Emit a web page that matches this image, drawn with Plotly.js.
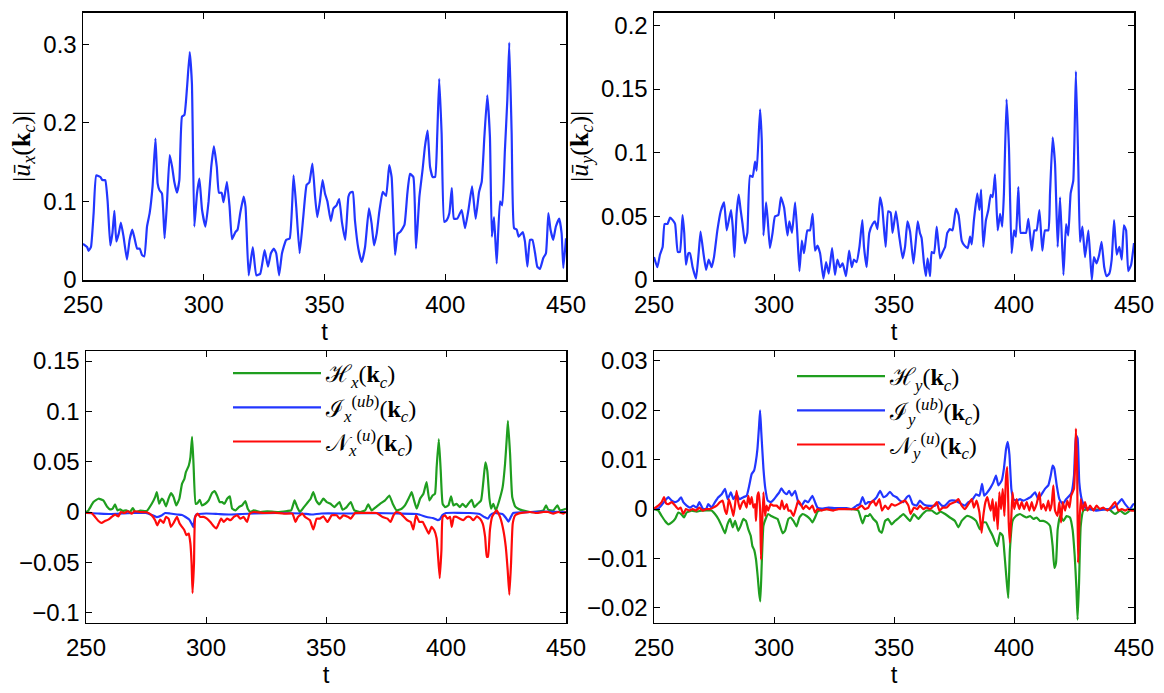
<!DOCTYPE html>
<html>
<head>
<meta charset="utf-8">
<script src="https://cdn.plot.ly/plotly-3.0.1.min.js"></script>
<style>html,body{margin:0;padding:0;background:#fff}#plot{width:1164px;height:693px}</style>
</head>
<body>
<div id="plot"></div>
<script>
// ---- data: [t, value] pairs ----
const uxData = [[250,0.046],[251.7,0.042],[252.3,0.037],[253.3,0.042],[254.4,0.085],[255.5,0.133],[257.2,0.131],[258,0.127],[259.2,0.127],[260.2,0.10],[261.3,0.044],[262.2,0.06],[263,0.088],[263.8,0.049],[264.8,0.059],[265.7,0.073],[266.8,0.055],[268.2,0.026],[269.3,0.051],[270.4,0.064],[271.2,0.055],[272.4,0.04],[273.5,0.04],[274.4,0.032],[275.4,0.03],[276.5,0.068],[277.6,0.085],[278.8,0.119],[280,0.18],[280.9,0.123],[281.7,0.114],[282.7,0.11],[283.8,0.053],[284.8,0.10],[285.9,0.159],[286.9,0.144],[287.8,0.125],[288.9,0.111],[289.9,0.127],[291,0.208],[292,0.21],[293.1,0.246],[294.2,0.29],[295.1,0.25],[296.1,0.068],[297.2,0.11],[298.2,0.129],[299.3,0.089],[300.7,0.068],[302,0.10],[303.1,0.144],[304.2,0.17],[305.4,0.144],[306.3,0.111],[307.4,0.111],[308.2,0.099],[309.6,0.125],[310.7,0.093],[311.7,0.052],[313.1,0.061],[314,0.064],[315.1,0.085],[316.5,0.106],[317.3,0.093],[318.6,0.006],[320.3,0.042],[321.8,0.006],[323.4,0.008],[325.2,0.038],[326.6,0.017],[327.8,0.034],[329,0.04],[330,0.034],[331.2,0.006],[332.4,0.034],[334.1,0.051],[335.6,0.053],[337.2,0.133],[338.3,0.093],[339.7,0.034],[341.2,0.08],[342.6,0.121],[343.7,0.124],[345,0.148],[346.1,0.106],[347,0.08],[348.1,0.10],[349.2,0.127],[350.2,0.11],[351.2,0.10],[352.6,0.075],[353.7,0.091],[355,0.095],[356.1,0.103],[357.2,0.074],[358.6,0.051],[359.9,0.106],[360.6,0.111],[361.7,0.112],[362.6,0.076],[364,0.04],[365.4,0.023],[366.8,0.042],[368.4,0.091],[369.5,0.072],[370.5,0.044],[371.6,0.059],[372.7,0.087],[374.1,0.112],[375.5,0.107],[376.8,0.146],[377.8,0.131],[379.2,0.032],[380.3,0.059],[381.3,0.061],[383.1,0.07],[384.3,0.11],[385.4,0.135],[386.8,0.131],[387.9,0.04],[389.3,0.106],[390.6,0.14],[391.6,0.17],[392.7,0.19],[393.7,0.144],[394.8,0.131],[395.8,0.131],[396.7,0.186],[397.5,0.256],[398.5,0.186],[399.6,0.074],[400.6,0.076],[401.7,0.085],[402.7,0.117],[403.6,0.078],[405,0.078],[406.8,0.089],[408.2,0.066],[409.6,0.089],[411.1,0.119],[412.6,0.078],[414,0.112],[415.1,0.125],[416.2,0.182],[417.4,0.235],[418.5,0.182],[419.3,0.055],[420.2,0.08],[421.3,0.021],[422.7,0.10],[423.6,0.095],[424.7,0.165],[425.7,0.229],[426.5,0.302],[427.5,0.186],[428.5,0.066],[429.6,0.064],[430.4,0.055],[432.1,0.061],[433,0.049],[434,0.017],[435.1,0.051],[436.1,0.051],[437.2,0.034],[438.1,0.017],[439.2,0.014],[440.6,0.028],[441.7,0.034],[442.7,0.085],[443.6,0.064],[444.7,0.051],[445.8,0.068],[447.2,0.078],[448.2,0.059],[448.9,0.015],[450,0.053]];

const uyData = [[250,0.018],[251.4,0.010],[252.5,0.02],[253.6,0.026],[254.4,0.044],[255.6,0.044],[256.7,0.049],[257.8,0.047],[258.8,0.044],[259.9,0.022],[260.8,0.022],[261.9,0.051],[262.6,0.037],[263.3,0.012],[264.3,0.021],[265,0.021],[266.1,0.01],[267.5,0.001],[268.6,0.021],[269.4,0.038],[270.6,0.021],[271.7,0.008],[272.8,0.016],[274,0.010],[275,0.018],[276.4,0.039],[277.8,0.054],[279.2,0.061],[280.3,0.039],[281.3,0.048],[282.1,0.055],[282.8,0.042],[283.5,0.018],[284.4,0.052],[285.3,0.067],[286.1,0.055],[286.9,0.044],[287.9,0.029],[288.9,0.037],[290,0.082],[291.1,0.081],[292.1,0.093],[292.8,0.086],[294.2,0.134],[294.9,0.11],[295.6,0.035],[296.7,0.061],[297.4,0.047],[298.3,0.025],[299.4,0.037],[300.4,0.050],[301.8,0.051],[302.9,0.065],[304.2,0.057],[305.6,0.035],[306.4,0.046],[307.5,0.037],[308.8,0.061],[309.7,0.037],[310.6,0.007],[311.6,0.031],[312.5,0.021],[313.9,0.039],[315,0.039],[316.1,0.052],[317.1,0.023],[318.1,0.027],[319.2,0.021],[320.6,0.001],[321.7,0.014],[322.8,0.005],[324.2,0.025],[325.4,0.004],[326.4,0.016],[327.5,0.01],[328.6,0.013],[330,0.003],[331.3,0.023],[332.4,0.01],[333.3,0.016],[334.4,0.014],[335.6,0.026],[336.8,0.047],[337.5,0.026],[338.6,0.010],[339.7,0.037],[341.1,0.044],[342.1,0.046],[343.1,0.04],[344.2,0.065],[345.1,0.057],[346.5,0.026],[347.6,0.054],[348.6,0.053],[349.4,0.037],[350.8,0.054],[352.2,0.034],[353.6,0.017],[354.6,0.026],[355.6,0.046],[356.7,0.038],[358.1,0.013],[359,0.029],[359.9,0.046],[360.8,0.037],[361.5,0.033],[362.5,0.013],[363.3,0.003],[364,0.017],[365,0.003],[365.7,0.022],[366.7,0.021],[367.8,0.042],[369.2,0.017],[370.3,0.022],[371.3,0.026],[372.2,0.037],[373.3,0.040],[374.4,0.039],[375.8,0.056],[376.9,0.051],[378.2,0.031],[379.4,0.027],[380.7,0.025],[381.7,0.034],[382.4,0.028],[383.3,0.047],[384.7,0.068],[385.6,0.055],[386.3,0.071],[387.2,0.026],[388.3,0.047],[389.3,0.055],[390.3,0.067],[391.1,0.065],[392.1,0.083],[393.2,0.039],[394.2,0.052],[395.1,0.042],[395.8,0.068],[396.9,0.142],[397.9,0.104],[399,0.021],[400,0.039],[400.8,0.034],[401.8,0.073],[402.8,0.037],[403.9,0.037],[405,0.037],[406,0.048],[407.4,0.023],[408.5,0.039],[409.4,0.039],[410.6,0.055],[411.8,0.023],[412.9,0.039],[414.3,0.039],[415,0.068],[416.1,0.112],[417.1,0.091],[418.2,0.026],[419.2,0.065],[420.6,0.004],[421.7,0.044],[422.6,0.035],[423.6,0.068],[424.7,0.078],[425.8,0.164],[426.8,0.089],[427.5,0.030],[428.5,0.042],[429.6,0.018],[431,0.039],[432.4,0.0],[433.3,0.018],[434.4,0.013],[435.4,0.019],[436.5,0.03],[437.6,0.010],[438.6,0.003],[439.7,0.005],[440.7,0.016],[441.7,0.047],[442.8,0.02],[443.9,0.026],[444.9,0.016],[445.8,0.043],[446.7,0.039],[447.6,0.007],[448.8,0.012],[450,0.029]];

const hxData = [[250,0],[251,0.0016],[253.1,0.0099],[255.2,0.0132],[257.2,0.0115],[258.9,0.0049],[260,0.0026],[261.1,0.0033],[262.1,0.0076],[263.1,0.0016],[264.2,0.0026],[265.3,0.001],[266.7,0.0016],[268.4,0],[269.5,0.0039],[270.5,0],[272.6,0.0013],[275.3,0.001],[277.4,0.0082],[278.8,0.0148],[279.5,0.0197],[280.5,0.0082],[281.5,0.0132],[282.3,0.0115],[283.3,0.0056],[284.4,0.0132],[285.4,0.0188],[286.5,0.0148],[287.6,0.0066],[288.9,0.0132],[290,0.028],[291,0.0329],[291.6,0.0395],[292.8,0.046],[293.5,0.0543],[294.2,0.0747],[294.8,0.0477],[295.7,0.0082],[296.5,0.0089],[297.4,0.0122],[298.3,0.0066],[299.7,0.0082],[301.1,0.0115],[302.5,0.0188],[303.6,0.0207],[304.6,0.0164],[305.7,0.0099],[306.7,0.0099],[307.7,0.0082],[308.8,0.0132],[309.9,0.0155],[310.9,0.0033],[312.3,0.0016],[313.7,0.0049],[315,0.0066],[316.4,0.0109],[317.4,0.0033],[318.5,0],[319.9,0.0016],[322.7,0],[325.5,0.0007],[329.7,0],[333.8,0.001],[335.5,0.0016],[336.9,0.0115],[338,0.0049],[339.1,0],[340.8,0.0049],[342.5,0.0099],[343.6,0.0132],[344.7,0.0197],[345.9,0.0115],[347.2,0.0076],[348.9,0.0132],[350.3,0.0099],[351.9,0.0082],[353.5,0.0049],[355.6,0.0099],[356.9,0.0023],[358.6,0.0049],[360.3,0.0099],[361.8,0.0016],[364.2,0],[366.3,0.0016],[367.6,0.0076],[369,0.0016],[370.8,0.0049],[372.5,0.0082],[374.6,0.0115],[376.4,0.0164],[377.8,0.0082],[379.4,0.0016],[381.5,0.0033],[382.9,0.0066],[384.7,0.0148],[385.7,0.0197],[386.7,0.0115],[387.8,0.0033],[389.2,0.0132],[390.6,0.0181],[391.9,0.0296],[393.1,0.0115],[394.4,0.0164],[395.4,0.0181],[396.1,0.0444],[397,0.0724],[397.8,0.0411],[398.6,0.0082],[399.6,0.0049],[401,0.0066],[402.1,0.0155],[403.1,0.0066],[404.4,0.0082],[405.8,0.0049],[406.9,0.0082],[408.3,0.0049],[409.3,0.0082],[410.7,0.0122],[411.8,0.0049],[413.2,0.0082],[414.6,0.0115],[415.6,0.0313],[416.4,0.0493],[417.2,0.0411],[418.1,0.0132],[418.8,0.0033],[419.7,0.0082],[420.8,0.0016],[422.2,0.0115],[423.6,0.0247],[424.6,0.0477],[425.3,0.0724],[425.8,0.0905],[426.7,0.0576],[427.6,0.0148],[428.8,0.0056],[430.1,0.0033],[431.9,0.0016],[435,0],[439.2,0.0007],[440.6,0.0016],[441.7,0.0066],[442.6,0.0023],[444.7,0.0016],[446.4,0.0066],[447.5,0.0016],[450,0.0033]];

const ixData = [[250,-0.001],[255,-0.0015],[260,-0.002],[265,-0.0015],[270,-0.001],[275,-0.001],[277.5,-0.003],[279.5,-0.005],[281.5,-0.0035],[283,-0.001],[285,-0.0015],[288,-0.0025],[290,-0.003],[291.5,-0.005],[293,-0.0075],[294.2,-0.0125],[294.7,-0.015],[295.3,-0.006],[296,-0.0025],[300,-0.0015],[305,-0.002],[310,-0.0025],[315,-0.002],[320,-0.0015],[330,-0.001],[340,-0.0015],[344,-0.0025],[348,-0.0015],[360,-0.0015],[370,-0.001],[380,-0.0015],[388,-0.002],[392,-0.005],[394.5,-0.006],[396.5,-0.008],[397.5,-0.007],[398.5,-0.003],[400,-0.001],[410,-0.001],[414,-0.002],[416,-0.005],[417.5,-0.0066],[418.5,-0.003],[420,-0.001],[423.5,-0.002],[425,-0.006],[426,-0.0095],[427,-0.005],[428,-0.001],[435,0],[440,0.0003],[450,0]];

const nxData = [[250,-0.001],[252.3,-0.001],[253.8,-0.0049],[255.2,-0.0089],[256.5,-0.0109],[257.9,-0.0089],[259.3,-0.0076],[260.7,-0.0049],[262.1,-0.0026],[263.5,-0.0043],[264.5,0],[265.9,-0.001],[267.4,0.0007],[269.1,-0.0016],[270.1,0.0007],[272.6,0],[275.3,-0.0003],[277.4,-0.0033],[278.8,-0.0082],[279.7,-0.0132],[280.9,-0.0076],[282.3,-0.0109],[283.3,-0.0049],[284.4,-0.0066],[285.4,-0.0148],[286.5,-0.0109],[287.9,-0.0049],[289,-0.0115],[290,-0.0148],[291,-0.0181],[291.8,-0.023],[292.8,-0.0214],[293.5,-0.0313],[294,-0.051],[294.4,-0.0806],[295,-0.051],[295.5,-0.0049],[296.5,-0.0016],[297.6,-0.0049],[299,-0.0049],[300.4,-0.0066],[301.8,-0.0099],[303.2,-0.0141],[304.3,-0.0164],[305.3,-0.0115],[306.3,-0.0066],[307.4,-0.0099],[308.8,-0.0066],[310.2,-0.0082],[311.6,-0.0049],[313,-0.0033],[314.3,-0.0066],[315.7,-0.0049],[317.1,-0.0099],[318.2,-0.0016],[319.9,0],[324.1,-0.001],[328.3,-0.0007],[332.5,-0.0016],[336,-0.0016],[337.3,-0.0099],[338.3,-0.0049],[340.1,-0.0016],[341.3,-0.0049],[343.3,-0.0082],[344.7,-0.0174],[346.1,-0.0066],[347.5,-0.0066],[348.9,-0.0043],[350.6,-0.0099],[352.4,-0.0033],[354.4,-0.0033],[355.8,-0.0066],[357.2,-0.0033],[359.3,-0.0049],[360.3,-0.0066],[362.1,-0.001],[366,-0.001],[371.1,-0.001],[373.6,-0.0049],[375.6,-0.0066],[376.9,-0.0099],[378.1,-0.0033],[379.2,0],[380.8,-0.001],[382.5,-0.0049],[383.9,-0.0082],[385.3,-0.0099],[386.4,-0.0174],[387.5,-0.0033],[388.9,-0.0099],[390.3,-0.0099],[391.7,-0.0164],[392.8,-0.0214],[394,-0.0148],[395.1,-0.0181],[396.1,-0.0263],[396.7,-0.0444],[397.4,-0.0658],[398.1,-0.0378],[398.6,-0.0049],[399.6,-0.0033],[400.6,-0.0066],[401.7,-0.0049],[402.4,-0.0148],[403.3,-0.0049],[404.4,-0.0049],[405.8,-0.0066],[407.2,-0.0082],[408.6,-0.0049],[410,-0.0049],[411.4,-0.0082],[412.8,-0.0043],[414.2,-0.0066],[415.3,-0.0115],[416.3,-0.0247],[417,-0.0444],[417.5,-0.0444],[418.3,-0.0181],[419.2,-0.0049],[420,-0.0016],[421.1,0.0016],[422.5,-0.0049],[423.9,-0.0181],[424.9,-0.0345],[425.7,-0.0576],[426.4,-0.0822],[427.1,-0.051],[427.8,-0.0115],[428.8,-0.0033],[430.1,-0.0016],[432.2,-0.0007],[435,0],[437.8,-0.001],[440.6,0],[442.6,0],[444.7,-0.0016],[446.8,0],[448.9,-0.0016],[450,0]];

const hyData = [[250,0],[251.8,-0.0003],[253.2,-0.0014],[254.6,-0.0024],[256,-0.0031],[257.4,-0.0027],[258.8,-0.002],[260.1,-0.0007],[261.3,-0.001],[262.5,-0.0017],[263.6,-0.0007],[265.7,-0.0003],[267.8,-0.0005],[269.9,-0.0003],[274,-0.0003],[275.4,-0.001],[276.8,-0.002],[278.2,-0.0034],[279.6,-0.0049],[280.6,-0.0031],[281.7,-0.002],[282.8,-0.0037],[283.8,-0.0024],[285.1,-0.0044],[286.1,-0.0034],[287.2,-0.002],[288.3,-0.0024],[289.3,-0.0041],[290.3,-0.0054],[291,-0.0075],[291.7,-0.0082],[292.5,-0.0102],[293.2,-0.0136],[293.8,-0.017],[294.3,-0.0187],[294.9,-0.0109],[295.6,-0.0034],[296.5,-0.002],[297.6,-0.001],[298.8,-0.0014],[300.1,-0.0017],[301.5,-0.002],[302.5,-0.0034],[303.6,-0.0049],[304.6,-0.0044],[306,-0.002],[306.9,-0.0017],[308.1,-0.0024],[309.4,-0.0035],[310.6,-0.0017],[311.9,-0.001],[313.6,-0.0014],[315,-0.002],[316,-0.0027],[317.1,-0.0017],[318.2,-0.0005],[319.9,-0.0001],[321.9,0],[333.1,0],[335.1,-0.0003],[336.9,-0.0029],[338.1,-0.0014],[339.3,-0.0014],[340,-0.001],[341.4,-0.002],[342.8,-0.0027],[343.9,-0.0044],[344.9,-0.0048],[346.3,-0.0024],[347.6,-0.002],[349,-0.0031],[350.4,-0.0024],[352.2,-0.0017],[353.9,-0.001],[355.3,-0.0017],[356.7,-0.0024],[358.3,-0.001],[360.1,-0.002],[361.9,-0.001],[363.6,-0.0003],[365.7,-0.0003],[367.8,-0.001],[369.4,-0.0005],[371.3,-0.001],[373.3,-0.0017],[375.4,-0.0024],[376.8,-0.0037],[378.2,-0.0024],[380.3,-0.0014],[382.4,-0.0017],[384.2,-0.0024],[385.8,-0.0041],[386.9,-0.0027],[388.3,-0.0027],[389.7,-0.0041],[391.1,-0.0054],[392.2,-0.0068],[393.1,-0.0075],[394.2,-0.0048],[395.3,-0.0054],[396.1,-0.0095],[396.9,-0.0143],[397.6,-0.018],[398.3,-0.0082],[399.4,-0.0024],[400.8,-0.0014],[402.5,-0.001],[403.9,-0.0014],[405.3,-0.0017],[406.7,-0.0014],[408.1,-0.002],[409.4,-0.0017],[410.8,-0.0024],[412.2,-0.0024],[413.6,-0.0027],[415,-0.0034],[416.1,-0.0075],[416.8,-0.0119],[417.5,-0.0109],[418.2,-0.0041],[419.2,-0.0014],[420.6,-0.0024],[421.9,-0.0014],[423.3,-0.0017],[424.4,-0.0041],[425.3,-0.0095],[426,-0.016],[426.5,-0.0224],[427.1,-0.015],[427.8,-0.0034],[428.9,-0.0003],[431.7,0],[434.4,-0.0001],[437.2,0],[440,-0.0002],[442.1,-0.001],[444.2,-0.0003],[446.3,-0.001],[448.3,-0.0003],[450,0]];

const iyData = [[250,0],[251.8,0.0001],[253.2,0.0008],[254.6,0.0017],[256,0.0024],[257.4,0.0017],[258.8,0.0014],[260.1,0.0017],[261.3,0.0024],[262.2,0.0014],[263.6,0.0007],[265,0.0003],[266.4,0.0007],[267.8,0.0003],[268.9,0.0014],[270.3,0.0001],[271.7,0],[272.6,0.001],[274,0.0003],[275.4,0.0014],[276.8,0.0024],[278.2,0.003],[279.6,0.0041],[280.7,0.002],[282,0.0034],[283.1,0.002],[284.4,0.003],[285.6,0.002],[287.2,0.0024],[288.6,0.0027],[289.7,0.0048],[290.7,0.0071],[291.7,0.0078],[292.4,0.0095],[293.1,0.0122],[293.8,0.017],[294.2,0.020],[294.7,0.0156],[295.6,0.0082],[296.4,0.0041],[297.4,0.0017],[298.6,0.0014],[300,0.002],[301.1,0.0027],[302.2,0.0034],[303.1,0.0042],[304.2,0.0034],[305.3,0.003],[306.3,0.0037],[307.4,0.0027],[308.8,0.0037],[310.1,0.0014],[311.5,0.0007],[312.9,0.0017],[314.3,0.0014],[316,0.0027],[317.1,0.0014],[318.1,0.0003],[319.9,0.0001],[322.6,0.0003],[325.4,0.0002],[330.3,0.0002],[332.4,0],[334.4,0.0007],[335.8,0.001],[336.9,0.0024],[338.1,0.001],[339.3,0.0014],[340.5,0.0014],[341.4,0.0017],[342.8,0.0024],[344.2,0.0037],[345.6,0.0024],[346.9,0.0027],[348.3,0.0035],[349.7,0.0027],[351.1,0.0024],[352.5,0.0017],[353.9,0.0014],[355.3,0.0024],[356.4,0.0027],[357.8,0.001],[359.4,0.0007],[360.8,0.0017],[362.2,0.001],[363.6,0.0007],[367.1,0.0007],[368.5,0.0014],[369.9,0.0007],[371.3,0.0007],[373.3,0.0017],[375.4,0.0017],[376.8,0.0014],[378.2,0.001],[379.6,0.0007],[381,0.0014],[382.4,0.0017],[384.2,0.003],[385.6,0.0027],[386.7,0.0051],[387.6,0.0027],[388.9,0.0034],[390.3,0.0044],[391.4,0.0054],[392.5,0.0068],[393.5,0.0048],[394.9,0.0058],[395.8,0.0082],[396.7,0.0122],[397.4,0.0136],[398.1,0.011],[398.9,0.0041],[399.7,0.002],[401.1,0.0017],[402.5,0.002],[403.9,0.0017],[405.3,0.002],[406.9,0.0024],[408.8,0.0034],[410.1,0.002],[411.5,0.003],[412.9,0.0041],[414.3,0.0048],[415.3,0.0068],[416.1,0.0088],[416.8,0.0082],[417.8,0.0048],[418.9,0.002],[420.3,0.001],[421.7,0.002],[423.1,0.0027],[424,0.0034],[425,0.0068],[425.8,0.015],[426.5,0.0143],[427.2,0.0054],[428.2,0.002],[429.6,0.0003],[431.7,0],[434.4,-0.0003],[437.2,-0.0001],[440,0],[441.4,0.0003],[443.1,0.001],[444.9,0.002],[446.3,0.001],[448.3,0],[449.7,0.001],[450,0.0008]];

const nyData = [[250,0.0001],[251.8,0.0007],[253.2,0.0014],[254.2,0.0024],[255,0.0012],[256,0.001],[257.4,0.0014],[258.8,0.0007],[260.1,0],[261.1,0.0003],[262.2,-0.001],[263.3,0],[264.7,-0.0003],[266.1,0],[267.5,-0.0003],[268.9,0.0003],[270.3,-0.0003],[271.7,0],[273.3,0],[274.7,0.0003],[276.1,0.0007],[277.5,0.0014],[278.6,0.0017],[279.6,-0.0003],[280.3,-0.001],[281.2,0.002],[282.4,0],[283.1,-0.0014],[283.8,0.001],[284.4,0.0037],[285.1,0.0014],[285.8,0],[286.5,0.001],[287.5,0.0017],[288.6,0.0003],[289.3,0.0027],[290,0.001],[290.7,0.0024],[291.4,0.0003],[292.1,0.001],[292.5,-0.0024],[293.1,0.0027],[293.6,0.0034],[294.2,0],[294.6,-0.0102],[295,-0.0041],[295.6,0.0034],[296.3,-0.0014],[296.9,0.0007],[297.6,-0.0003],[298.6,0.001],[299.7,0.0007],[301.1,0.0007],[302.5,0],[303.3,0.0017],[304.2,0],[305.3,0.001],[306,-0.0003],[306.9,-0.0003],[308.1,-0.0014],[309.2,0.0003],[310.1,0.0017],[311.1,0.001],[312.2,0],[313.3,0.0007],[314.7,0],[316,0.0007],[317.1,-0.0007],[318.1,0],[319.9,-0.0003],[321.9,0],[324.7,-0.0003],[326.8,0],[334.4,0],[336.5,0.0007],[337.9,0],[339.3,0.0003],[340,0.001],[341.4,0.0017],[342.5,0.0007],[343.9,0.002],[345,-0.0003],[346.3,0.0007],[347.6,0],[349,0.001],[350.4,0.0007],[351.8,0.001],[353.2,0.0014],[354.6,0.0017],[356,0.0007],[356.9,-0.001],[358.3,0.0003],[359.7,0],[360.8,0.0007],[362.2,0],[363.6,0.0003],[365,0],[366.7,0.0007],[367.8,0.0014],[368.9,-0.0003],[370.3,0.0003],[371.9,0.0003],[373.3,0.001],[375.4,0.0014],[376.8,0.002],[378.2,0.0007],[379.6,0],[381,0.001],[382.4,0.002],[383.3,0.0003],[384.4,0.0017],[385.6,-0.0007],[386.5,-0.0048],[387.2,-0.0014],[388.1,0.0014],[388.9,0.0024],[389.7,0.0007],[390.3,-0.0003],[391.1,0.002],[391.7,-0.0024],[392.5,0.0014],[393.2,-0.0041],[393.9,0.0034],[394.6,0],[395.3,0.0041],[396,-0.0014],[396.7,0.0068],[397.2,0.0085],[397.8,-0.0027],[398.3,-0.0068],[398.9,-0.0014],[399.4,0.0034],[400.1,0],[401.1,0.002],[402.2,0],[403.2,0.0014],[404.2,0],[405.3,0.0014],[406.4,-0.0003],[407.4,0.0014],[408.3,-0.0003],[409.4,0.001],[410.6,0.0034],[411.3,0],[412.2,0.001],[413.3,-0.0003],[414.3,0.0017],[415,-0.0003],[415.7,0.001],[416.4,0.0048],[417.1,-0.0003],[418.1,-0.0014],[418.9,0.0014],[419.6,-0.0027],[420.3,0.0014],[421.3,-0.0003],[422.2,0.0017],[423.1,0.0003],[423.8,0.0027],[424.4,0.0034],[425,0.0041],[425.4,0.0082],[425.8,0.0163],[426.3,0.0082],[426.7,-0.0109],[427.2,-0.0034],[427.8,0.002],[428.6,-0.0003],[429.6,0.0014],[430.6,-0.0003],[431.7,0.0007],[433.1,-0.0003],[434.4,0.0007],[435.8,0],[437.2,0.0003],[438.9,-0.0003],[440.3,0.0003],[442.1,0.0014],[443.5,-0.0003],[444.9,0],[446.3,-0.0003],[447.6,0],[449,-0.0003],[450,-0.0003]];

const xTicks = [250, 300, 350, 400, 450];
const legendNamesX = ['\u210B<sub><i>x</i></sub>(<b>k</b><sub><i>c</i></sub>)', '\u2110<sub><i>x</i></sub><sup>(<i>ub</i>)</sup>(<b>k</b><sub><i>c</i></sub>)', '\uD835\uDCA9<sub><i>x</i></sub><sup>(<i>u</i>)</sup>(<b>k</b><sub><i>c</i></sub>)'];
const legendNamesY = ['\u210B<sub><i>y</i></sub>(<b>k</b><sub><i>c</i></sub>)', '\u2110<sub><i>y</i></sub><sup>(<i>ub</i>)</sup>(<b>k</b><sub><i>c</i></sub>)', '\uD835\uDCA9<sub><i>y</i></sub><sup>(<i>u</i>)</sup>(<b>k</b><sub><i>c</i></sub>)'];

// ---- styling ----
const BLUE = '#2236ff', GREEN = '#1f9e1f', RED = '#ff0a0a';
const W = 1164, H = 693;
const tickFont = {family: 'Liberation Sans, Arial, sans-serif', size: 24, color: '#000'};
const mathFont = {family: 'Liberation Serif, DejaVu Serif, serif', size: 26, color: '#000'};
const legFont = {family: 'Liberation Serif, DejaVu Serif, serif', size: 24, color: '#000'};

function tr(data, color, xa, ya, name, legend) {
  return {
    x: data.map(d => d[0]), y: data.map(d => d[1]),
    type: 'scatter', mode: 'lines', xaxis: xa, yaxis: ya,
    line: {color: color, width: 2.2, shape: 'spline', smoothing: 0.4},
    name: name || '', showlegend: !!name, legend: legend || 'legend'
  };
}

const traces = [
  tr(uxData, BLUE, 'x', 'y'),
  tr(uyData, BLUE, 'x2', 'y2'),
  tr(hxData, GREEN, 'x3', 'y3', legendNamesX[0], 'legend'),
  tr(ixData, BLUE, 'x3', 'y3', legendNamesX[1], 'legend'),
  tr(nxData, RED, 'x3', 'y3', legendNamesX[2], 'legend'),
  tr(hyData, GREEN, 'x4', 'y4', legendNamesY[0], 'legend2'),
  tr(iyData, BLUE, 'x4', 'y4', legendNamesY[1], 'legend2'),
  tr(nyData, RED, 'x4', 'y4', legendNamesY[2], 'legend2')
];

function xax(dom, anchor) {
  return {domain: dom, anchor: anchor, range: [250, 450], tickvals: xTicks,
    ticks: 'inside', ticklen: 6, tickwidth: 1, tickcolor: '#000', mirror: 'ticks',
    showline: true, linecolor: '#000', linewidth: 1.5, showgrid: false, zeroline: false,
    tickfont: tickFont, ticklabelstandoff: 3,
    title: {text: 't', font: tickFont, standoff: 0}};
}
function yax(dom, anchor, range, dtick, title) {
  return {domain: dom, anchor: anchor, range: range, dtick: dtick, tick0: 0,
    ticks: 'inside', ticklen: 6, tickwidth: 1, tickcolor: '#000', mirror: 'ticks',
    showline: true, linecolor: '#000', linewidth: 1.5, showgrid: false, zeroline: false,
    tickfont: tickFont, ticklabelstandoff: 0,
    title: title ? {text: title, font: mathFont, standoff: 5} : undefined};
}

const xL = [83 / W, 566 / W], xLb = [86 / W, 566 / W], xR = [654 / W, 1134 / W];
const yT = [1 - 280 / H, 1 - 12.7 / H], yB = [1 - 622.7 / H, 1 - 351 / H];

const layout = {
  width: W, height: H,
  margin: {l: 0, r: 0, t: 0, b: 0},
  paper_bgcolor: '#fff', plot_bgcolor: '#fff',
  xaxis: xax(xL, 'y'),
  yaxis: yax(yT, 'x', [0, 0.34], 0.1, '|<i>ū</i><sub><i>x</i></sub>(<b>k</b><sub><i>c</i></sub>)|'),
  xaxis2: xax(xR, 'y2'),
  yaxis2: yax(yT, 'x2', [0, 0.21], 0.05, '|<i>ū</i><sub><i>y</i></sub>(<b>k</b><sub><i>c</i></sub>)|'),
  xaxis3: xax(xLb, 'y3'),
  yaxis3: yax(yB, 'x3', [-0.11, 0.16], 0.05),
  xaxis4: xax(xR, 'y4'),
  yaxis4: yax(yB, 'x4', [-0.023, 0.032], 0.01),
  legend: {x: 228 / W, y: 1 - 351 / H, xanchor: 'left', yanchor: 'top', itemwidth: 88,
    bgcolor: 'rgba(0,0,0,0)', borderwidth: 0, font: legFont, tracegroupgap: 0},
  legend2: {x: 792 / W, y: 1 - 354 / H, xanchor: 'left', yanchor: 'top', itemwidth: 88,
    bgcolor: 'rgba(0,0,0,0)', borderwidth: 0, font: legFont, tracegroupgap: 0},
  showlegend: true
};

Plotly.newPlot('plot', traces, layout, {staticPlot: true, displayModeBar: false});
</script>
</body>
</html>
